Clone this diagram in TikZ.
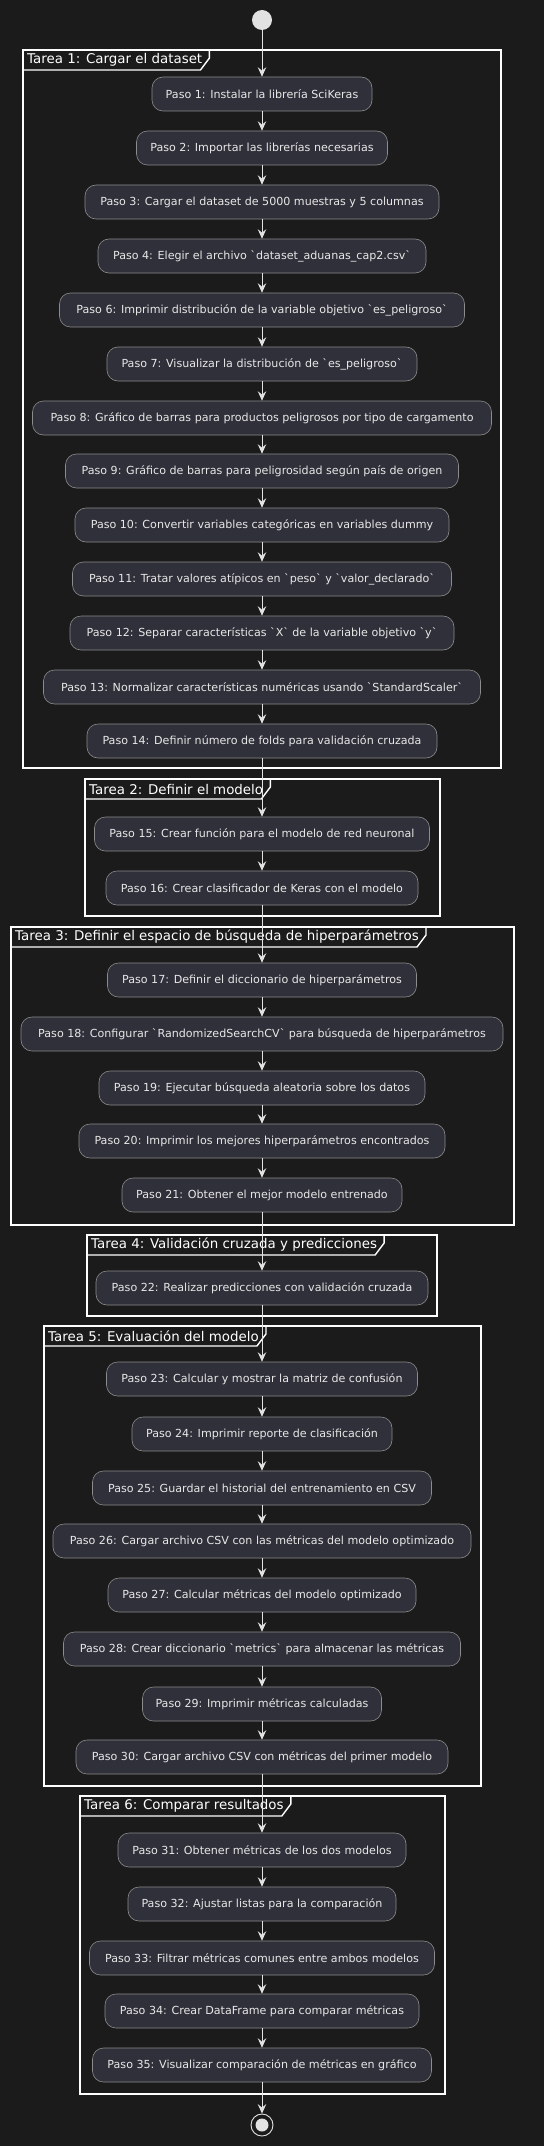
\documentclass[tikz,border=0pt]{standalone}
\usepackage{fontspec}
\setmainfont{DejaVu Sans}
\usetikzlibrary{arrows.meta}
\definecolor{fondo}{HTML}{1B1B1C}
\definecolor{caja}{HTML}{2F3039}
\definecolor{borde}{HTML}{8C8C8C}
\definecolor{texto}{HTML}{E8E8E8}
\definecolor{claro}{HTML}{E2E2E2}
\newcommand{\bq}{\textasciigrave}

\begin{document}
\begin{tikzpicture}[x=1pt, y=-1pt,
  every node/.style={font=\fontsize{11.1}{13}\selectfont, text=texto},
  paso/.style={draw=borde, fill=caja, rounded corners=11pt, minimum height=34pt, inner xsep=2pt, line width=0.6pt},
  tarea/.style={draw=white, line width=1.4pt},
  titulo/.style={anchor=west, inner sep=0pt, text=white, font=\fontsize{13.4}{15}\selectfont},
  flujo/.style={draw=claro, line width=0.8pt, -{Stealth[length=9.5pt, width=8.5pt, inset=3.5pt]}},
  inicio/.style={circle, fill=claro, minimum size=20pt, inner sep=0pt},
  fin/.style={circle, draw=claro, line width=0.9pt, minimum size=22pt, inner sep=0pt}]
	\fill[fondo] (0,0) rectangle (544,2146);
	\useasboundingbox (0,0) rectangle (544,2146);
	% marcos de las tareas
	\draw[tarea] (23,50) rectangle (501,768);
	\node[titulo] (t1) at (27,60) {Tarea 1: Cargar el dataset};
	\draw[tarea] ([xshift=7pt,yshift=10pt]t1.east) -- ([xshift=7pt,yshift=2pt]t1.east) -- ([xshift=-2pt,yshift=-10pt]t1.east) -- (23,70);
	\draw[tarea] (85,779) rectangle (440,916);
	\node[titulo] (t2) at (89,789) {Tarea 2: Definir el modelo};
	\draw[tarea] ([xshift=7pt,yshift=10pt]t2.east) -- ([xshift=7pt,yshift=2pt]t2.east) -- ([xshift=-2pt,yshift=-10pt]t2.east) -- (85,799);
	\draw[tarea] (11,927) rectangle (514,1225);
	\node[titulo] (t3) at (15,937) {Tarea 3: Definir el espacio de búsqueda de hiperparámetros};
	\draw[tarea] ([xshift=7pt,yshift=10pt]t3.east) -- ([xshift=7pt,yshift=2pt]t3.east) -- ([xshift=-2pt,yshift=-10pt]t3.east) -- (11,947);
	\draw[tarea] (87,1235) rectangle (437,1316);
	\node[titulo] (t4) at (91,1245) {Tarea 4: Validación cruzada y predicciones};
	\draw[tarea] ([xshift=7pt,yshift=10pt]t4.east) -- ([xshift=7pt,yshift=2pt]t4.east) -- ([xshift=-2pt,yshift=-10pt]t4.east) -- (87,1255);
	\draw[tarea] (44,1326) rectangle (481,1786);
	\node[titulo] (t5) at (48,1336) {Tarea 5: Evaluación del modelo};
	\draw[tarea] ([xshift=7pt,yshift=10pt]t5.east) -- ([xshift=7pt,yshift=2pt]t5.east) -- ([xshift=-2pt,yshift=-10pt]t5.east) -- (44,1346);
	\draw[tarea] (80,1796) rectangle (445,2094);
	\node[titulo] (t6) at (84,1806) {Tarea 6: Comparar resultados};
	\draw[tarea] ([xshift=7pt,yshift=10pt]t6.east) -- ([xshift=7pt,yshift=2pt]t6.east) -- ([xshift=-2pt,yshift=-10pt]t6.east) -- (80,1816);
	% pasos
	\node[inicio] (ini) at (262,20) {};
	\node[paso, minimum width=220] (s1) at (262,94) {Paso 1: Instalar la librería SciKeras};
	\node[paso, minimum width=251] (s2) at (262,148) {Paso 2: Importar las librerías necesarias};
	\node[paso, minimum width=354] (s3) at (262,202) {Paso 3: Cargar el dataset de 5000 muestras y 5 columnas};
	\node[paso, minimum width=328] (s4) at (262,256) {Paso 4: Elegir el archivo \bq dataset\_aduanas\_cap2.csv\bq};
	\node[paso, minimum width=405] (s6) at (262,310) {Paso 6: Imprimir distribución de la variable objetivo \bq es\_peligroso\bq};
	\node[paso, minimum width=310] (s7) at (262,364) {Paso 7: Visualizar la distribución de \bq es\_peligroso\bq};
	\node[paso, minimum width=459] (s8) at (262,418) {Paso 8: Gráfico de barras para productos peligrosos por tipo de cargamento};
	\node[paso, minimum width=393] (s9) at (262,471) {Paso 9: Gráfico de barras para peligrosidad según país de origen};
	\node[paso, minimum width=374] (s10) at (262,525) {Paso 10: Convertir variables categóricas en variables dummy};
	\node[paso, minimum width=379] (s11) at (262,579) {Paso 11: Tratar valores atípicos en \bq peso\bq\ y \bq valor\_declarado\bq};
	\node[paso, minimum width=384] (s12) at (262,633) {Paso 12: Separar características \bq X\bq\ de la variable objetivo \bq y\bq};
	\node[paso, minimum width=437] (s13) at (262,687) {Paso 13: Normalizar características numéricas usando \bq StandardScaler\bq};
	\node[paso, minimum width=350] (s14) at (262,741) {Paso 14: Definir número de folds para validación cruzada};
	\node[paso, minimum width=335] (s15) at (262,834) {Paso 15: Crear función para el modelo de red neuronal};
	\node[paso, minimum width=312] (s16) at (262,888) {Paso 16: Crear clasificador de Keras con el modelo};
	\node[paso, minimum width=309] (s17) at (262,980) {Paso 17: Definir el diccionario de hiperparámetros};
	\node[paso, minimum width=482] (s18) at (262,1034) {Paso 18: Configurar \bq RandomizedSearchCV\bq\ para búsqueda de hiperparámetros};
	\node[paso, minimum width=326] (s19) at (262,1088) {Paso 19: Ejecutar búsqueda aleatoria sobre los datos};
	\node[paso, minimum width=366] (s20) at (262,1141) {Paso 20: Imprimir los mejores hiperparámetros encontrados};
	\node[paso, minimum width=280] (s21) at (262,1195) {Paso 21: Obtener el mejor modelo entrenado};
	\node[paso, minimum width=332] (s22) at (262,1288) {Paso 22: Realizar predicciones con validación cruzada};
	\node[paso, minimum width=311] (s23) at (262,1379) {Paso 23: Calcular y mostrar la matriz de confusión};
	\node[paso, minimum width=260] (s24) at (262,1434) {Paso 24: Imprimir reporte de clasificación};
	\node[paso, minimum width=339] (s25) at (262,1488) {Paso 25: Guardar el historial del entrenamiento en CSV};
	\node[paso, minimum width=418] (s26) at (262,1541) {Paso 26: Cargar archivo CSV con las métricas del modelo optimizado};
	\node[paso, minimum width=308] (s27) at (262,1595) {Paso 27: Calcular métricas del modelo optimizado};
	\node[paso, minimum width=397] (s28) at (262,1649) {Paso 28: Crear diccionario \bq metrics\bq\ para almacenar las métricas};
	\node[paso, minimum width=239] (s29) at (262,1704) {Paso 29: Imprimir métricas calculadas};
	\node[paso, minimum width=372] (s30) at (262,1757) {Paso 30: Cargar archivo CSV con métricas del primer modelo};
	\node[paso, minimum width=288] (s31) at (262,1850) {Paso 31: Obtener métricas de los dos modelos};
	\node[paso, minimum width=268] (s32) at (262,1904) {Paso 32: Ajustar listas para la comparación};
	\node[paso, minimum width=345] (s33) at (262,1958) {Paso 33: Filtrar métricas comunes entre ambos modelos};
	\node[paso, minimum width=314] (s34) at (262,2011) {Paso 34: Crear DataFrame para comparar métricas};
	\node[paso, minimum width=339] (s35) at (262,2065) {Paso 35: Visualizar comparación de métricas en gráfico};
	\node[fin] (fin) at (262,2125) {};
	\fill[claro] (fin) circle (6.5);
	% flechas
	\draw[flujo] (ini) -- (s1);
	\draw[flujo] (s1) -- (s2);
	\draw[flujo] (s2) -- (s3);
	\draw[flujo] (s3) -- (s4);
	\draw[flujo] (s4) -- (s6);
	\draw[flujo] (s6) -- (s7);
	\draw[flujo] (s7) -- (s8);
	\draw[flujo] (s8) -- (s9);
	\draw[flujo] (s9) -- (s10);
	\draw[flujo] (s10) -- (s11);
	\draw[flujo] (s11) -- (s12);
	\draw[flujo] (s12) -- (s13);
	\draw[flujo] (s13) -- (s14);
	\draw[flujo] (s14) -- (s15);
	\draw[flujo] (s15) -- (s16);
	\draw[flujo] (s16) -- (s17);
	\draw[flujo] (s17) -- (s18);
	\draw[flujo] (s18) -- (s19);
	\draw[flujo] (s19) -- (s20);
	\draw[flujo] (s20) -- (s21);
	\draw[flujo] (s21) -- (s22);
	\draw[flujo] (s22) -- (s23);
	\draw[flujo] (s23) -- (s24);
	\draw[flujo] (s24) -- (s25);
	\draw[flujo] (s25) -- (s26);
	\draw[flujo] (s26) -- (s27);
	\draw[flujo] (s27) -- (s28);
	\draw[flujo] (s28) -- (s29);
	\draw[flujo] (s29) -- (s30);
	\draw[flujo] (s30) -- (s31);
	\draw[flujo] (s31) -- (s32);
	\draw[flujo] (s32) -- (s33);
	\draw[flujo] (s33) -- (s34);
	\draw[flujo] (s34) -- (s35);
	\draw[flujo] (s35) -- (fin);
\end{tikzpicture}
\end{document}
